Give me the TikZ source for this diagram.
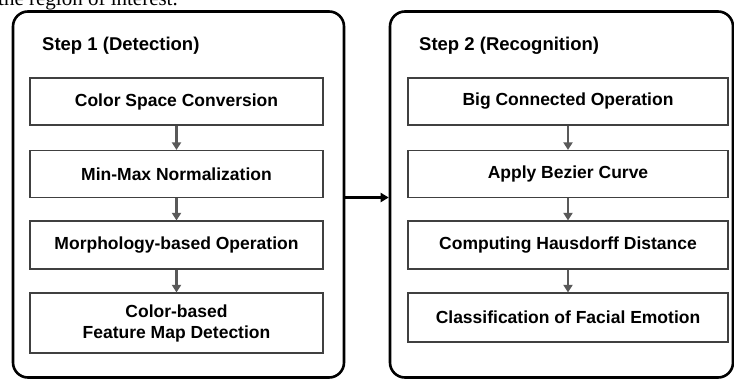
\documentclass[tikz,border=0pt]{standalone}
\usepackage{fontspec}
\setmainfont{Liberation Sans}
\newfontfamily\serifcut{Liberation Serif}
\usetikzlibrary{arrows.meta,positioning}
\definecolor{boxline}{HTML}{404040}
\definecolor{arrowgrey}{HTML}{595959}
\begin{document}
\begin{tikzpicture}[x=1pt,y=-1pt,
  outerbox/.style={draw=black,line width=2.6pt,rounded corners=15pt,minimum width=#1,minimum height=366pt,inner sep=0pt},
  stepbox/.style={draw=boxline,line width=1.2pt,fill=white,minimum width=#1,inner sep=0pt,align=center,
    font=\fontsize{17.5}{21}\selectfont\bfseries},
  heading/.style={anchor=west,inner sep=0pt,font=\fontsize{18.5}{22}\selectfont\bfseries},
  flow/.style={draw=arrowgrey,line width=2.2pt,-{Triangle[length=7.5pt,width=9pt]}},
  link/.style={draw=black,line width=2.8pt,-{Triangle[length=8pt,width=9pt]}}
]
\useasboundingbox (0,0) rectangle (734,378);
% cut-off text at the top
\node[anchor=base west,inner sep=0pt,font=\serifcut\fontsize{21}{24}\selectfont] (cut) at (-2,5) {the region of interest.};
% outer frames
\node[outerbox=331pt] (left) at (178.5,194.5) {};
\node[outerbox=343pt] (right) at (561.5,194.5) {};
% headings
\node[heading] (h1) at (42,46) {Step 1 (Detection)};
\node[heading] (h2) at (419,46) {Step 2 (Recognition)};
% left column
\node[stepbox=293pt,minimum height=47pt] (a1) at (176.5,101.5) {Color Space Conversion};
\node[stepbox=293pt,minimum height=47pt] (a2) at (176.5,174) {Min-Max Normalization};
\node[stepbox=293pt,minimum height=48pt] (a3) at (176.5,245) {Morphology-based Operation};
\node[stepbox=293pt,minimum height=60pt] (a4) at (176.5,323) {Color-based\\Feature Map Detection};
% right column
\node[stepbox=320pt,minimum height=47pt] (b1) at (568,101.5) {Big Connected Operation};
\node[stepbox=320pt,minimum height=47pt] (b2) at (568,174) {Apply Bezier Curve};
\node[stepbox=320pt,minimum height=48pt] (b3) at (568,245) {Computing Hausdorff Distance};
\node[stepbox=320pt,minimum height=49pt] (b4) at (568,317.5) {Classification of Facial Emotion};
% arrows
\draw[flow] (a1) -- (a2);
\draw[flow] (a2) -- (a3);
\draw[flow] (a3) -- (a4);
\draw[flow] (b1) -- (b2);
\draw[flow] (b2) -- (b3);
\draw[flow] (b3) -- (b4);
\draw[link] ([yshift=-3pt]left.east) -- ([yshift=-3pt]right.west);
\end{tikzpicture}
\end{document}
